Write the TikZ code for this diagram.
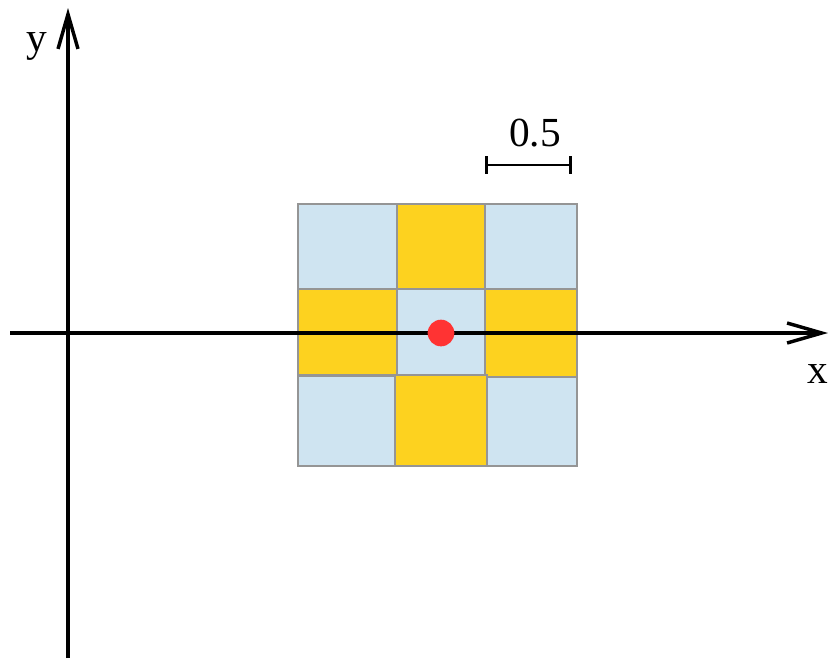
\documentclass[tikz,border=0pt]{standalone}
\usepackage{fontspec}
\setmainfont{Liberation Serif}
\usetikzlibrary{arrows.meta}
\definecolor{azul}{HTML}{CFE4F1}
\definecolor{oro}{HTML}{FDD21F}
\definecolor{rojo}{HTML}{FF3333}
\definecolor{borde}{HTML}{959595}

\begin{document}
\begin{tikzpicture}[
    x=0.75pt, y=-0.75pt,
    font=\fontsize{31}{36}\selectfont,
    eje/.style={line width=2.6pt,
      -{Straight Barb[length=26pt, width=15pt, line width=2.6pt]}},
    escala/.style={line width=2.2pt, {Bar[width=13pt]}-{Bar[width=13pt]}},
    celda/.style={draw=borde, line width=1.4pt},
    punto/.style={circle, fill=rojo, inner sep=0pt, minimum size=20pt}
  ]
    \useasboundingbox (0,0) rectangle (828,658);

    % --- Celdas ---
    \foreach \xa/\ya/\xb/\yb/\col in {
        298/204/397/289/azul, 397/204/485/289/oro,  485/204/577/289/azul,
        298/289/397/375/oro,  397/289/485/375/azul, 485/289/577/377/oro,
        298/376/395/466/azul, 395/375/487/466/oro,  487/377/577/466/azul}
      \filldraw[celda, fill=\col] (\xa,\ya) rectangle (\xb,\yb);

    % --- Ejes ---
    \coordinate (xini) at (10,333);
    \coordinate (xfin) at (828,333);
    \coordinate (yini) at (68,658);
    \coordinate (yfin) at (68,8);
    \draw[eje] (xini) -- (xfin);
    \draw[eje] (yini) -- (yfin);
    \node (xlbl) at (818,374) {x};
    \node (ylbl) at (37,46) {y};

    % --- Punto central ---
    \node[punto] (centro) at (441,333) {};

    % --- Escala ---
    \coordinate (escA) at (485,165);
    \coordinate (escB) at (572,165);
    \draw[escala] (escA) -- (escB);
    \node (esclbl) at (535,133) {0.5};
  \end{tikzpicture}
\end{document}
